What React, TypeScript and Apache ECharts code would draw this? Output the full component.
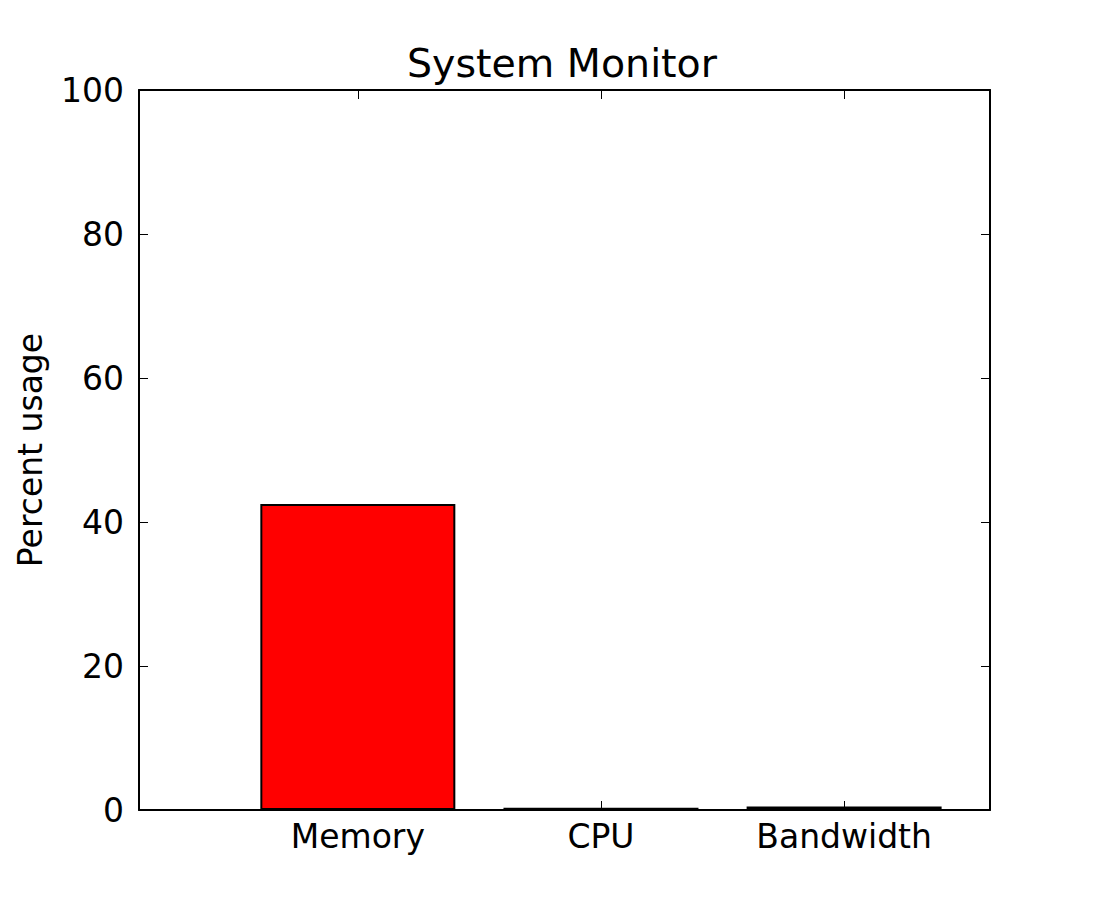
import React, { useEffect, useRef } from "react";
import * as echarts from "echarts";

const categories = ["Memory", "CPU", "Bandwidth"];
const barCenters = [0.9, 1.9, 2.9];
const usage = [42.5, 0.3, 0.5];
const yTicks = [0, 20, 40, 60, 80, 100];

const FONT = "DejaVu Sans";

export default function App() {
  const ref = useRef<HTMLDivElement>(null);
  useEffect(() => {
    if (!ref.current) return;
    const chart = echarts.init(ref.current, null, { renderer: "svg" });
    const labelFor = (v: number) => {
      const i = barCenters.findIndex((p) => Math.abs(p - v) < 1e-6);
      return i >= 0 ? categories[i] : "";
    };
    const xCommon = {
      type: "value" as const,
      min: 0,
      max: 3.5,
      splitLine: { show: false },
      axisLine: { show: true, onZero: false, lineStyle: { color: "#000", width: 2 } },
      axisTick: {
        show: true,
        inside: true,
        length: 9,
        customValues: barCenters,
        lineStyle: { color: "#000", width: 1 },
      },
    };
    const yCommon = {
      type: "value" as const,
      min: yTicks[0],
      max: yTicks[yTicks.length - 1],
      interval: yTicks[1] - yTicks[0],
      splitLine: { show: false },
      axisLine: { show: true, onZero: false, lineStyle: { color: "#000", width: 2 } },
      axisTick: { show: true, inside: true, length: 9, lineStyle: { color: "#000", width: 1 } },
    };
    chart.setOption({
      animation: false,
      backgroundColor: "#fff",
      title: {
        text: "System Monitor",
        left: 557,
        textAlign: "center",
        top: 38,
        textStyle: { fontFamily: FONT, fontSize: 39.5, fontWeight: "normal", color: "#000" },
      },
      grid: {
        left: 139,
        right: 110,
        top: 90,
        bottom: 90,
        containLabel: false,
        outerBoundsMode: "none",
      },
      xAxis: [
        {
          ...xCommon,
          position: "bottom",
          axisLabel: {
            show: true,
            customValues: barCenters,
            formatter: (v: number) => labelFor(v),
            fontFamily: FONT,
            fontSize: 33,
            color: "#000",
            margin: 10,
          },
        },
        {
          ...xCommon,
          position: "top",
          axisLabel: { show: false },
        },
      ],
      yAxis: [
        {
          ...yCommon,
          position: "left",
          name: "Percent usage",
          nameLocation: "middle",
          nameGap: 92,
          nameTextStyle: { fontFamily: FONT, fontSize: 33, color: "#000" },
          axisLabel: { fontFamily: FONT, fontSize: 33, color: "#000", margin: 15 },
        },
        {
          ...yCommon,
          position: "right",
          axisLabel: { show: false },
        },
      ],
      series: [
        {
          type: "bar",
          xAxisIndex: 0,
          yAxisIndex: 0,
          barWidth: 195,
          data: barCenters.map((x, i) => [x, usage[i]]),
          itemStyle: { color: "#ff0000", borderColor: "#000", borderWidth: 2 },
        },
      ],
    });
    return () => chart.dispose();
  }, []);
  return (
    <div
      ref={ref}
      style={{ position: "fixed", left: 0, top: 0, width: 1100, height: 900, background: "#fff" }}
    />
  );
}
